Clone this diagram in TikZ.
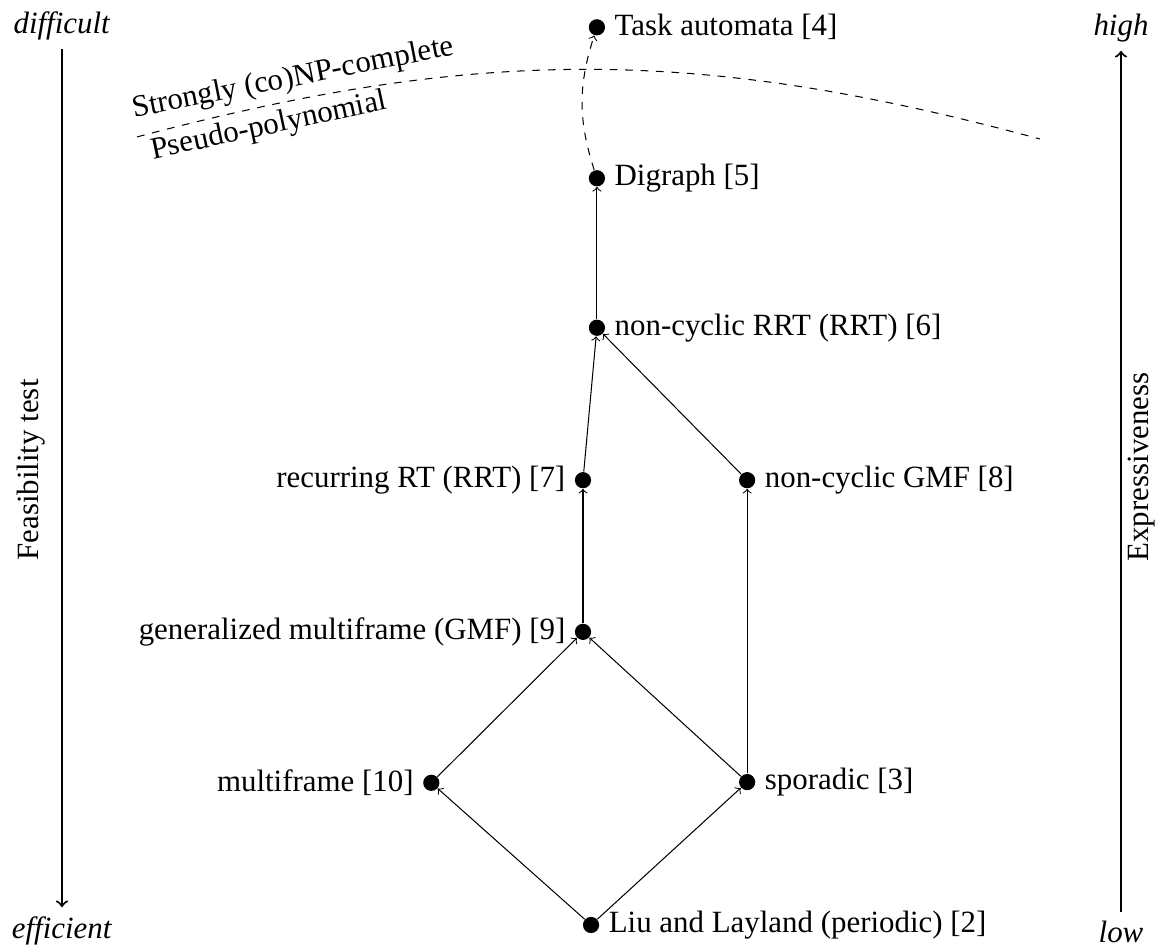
\documentclass[tikz,border=0pt]{standalone}
\usepackage{fontspec}
\setmainfont{Liberation Serif}
\usepackage{tikz}
\usetikzlibrary{positioning}

\begin{document}
\begin{tikzpicture}[on grid,
    font=\fontsize{12}{14}\selectfont,
    dot/.style={circle,fill,inner sep=0pt,minimum size=6.3pt}]
    \useasboundingbox (0,0) rectangle (15.885,12.978);
    % task models
    \node[dot,label=right:{Liu and Layland (periodic) [2]}] (liu) at (8.066,0.355) {};
    \node[dot,label=left:{multiframe [10]}] (mf) [above left=1.94cm and 2.18cm of liu] {};
    \node[dot,label=right:{sporadic [3]}] (sp) [above right=1.95cm and 2.13cm of liu] {};
    \node[dot,label=left:{generalized multiframe (GMF) [9]}] (gmf) [above right=2.06cm and 2.07cm of mf] {};
    \node[dot,label=left:{recurring RT (RRT) [7]}] (rrt) [above=2.07cm of gmf] {};
    \node[dot,label=right:{non-cyclic GMF [8]}] (ncgmf) [above=4.12cm of sp] {};
    \node[dot,label=right:{non-cyclic RRT (RRT) [6]}] (ncrrt) [above right=2.08cm and 0.19cm of rrt] {};
    \node[dot,label=right:{Digraph [5]}] (dig) [above=2.04cm of ncrrt] {};
    \node[dot,label=right:{Task automata [4]}] (ta) [above=2.06cm of dig] {};
    \path (liu) edge[->] (mf)
          (liu) edge[->] (sp)
          (mf) edge[->] (gmf)
          (sp) edge[->] (gmf)
          (sp) edge[->] (ncgmf)
          (gmf) edge[->] (rrt)
          (rrt) edge[->] (ncrrt)
          (ncgmf) edge[->] (ncrrt)
          (ncrrt) edge[->] (dig)
          (dig) edge[->,dashed,bend left=18] (ta);
    % complexity border
    \coordinate (bl) at (1.870,11.109);
    \coordinate (br) at (14.193,11.081);
    \draw[dashed] (bl) to[bend left=15]
        node[pos=0.165,sloped,above,inner sep=2.5pt] {Strongly (co)NP-complete}
        node[pos=0.13,sloped,below,inner sep=2.5pt] {Pseudo-polynomial} (br);
    % axes
    \node (difficult) at (0.846,12.63) {\textit{difficult}};
    \node (efficient) at (0.846,0.28) {\textit{efficient}};
    \node (high) at (15.298,12.60) {\textit{high}};
    \node (low) at (15.298,0.259) {\textit{low}};
    \node[rotate=90] (feas) at (0.423,6.564) {Feasibility test};
    \node[rotate=90] (expr) at (15.585,6.605) {Expressiveness};
    \draw[thick,->] (difficult) -- (efficient);
    \draw[thick,->] (low) -- (high);
\end{tikzpicture}
\end{document}
